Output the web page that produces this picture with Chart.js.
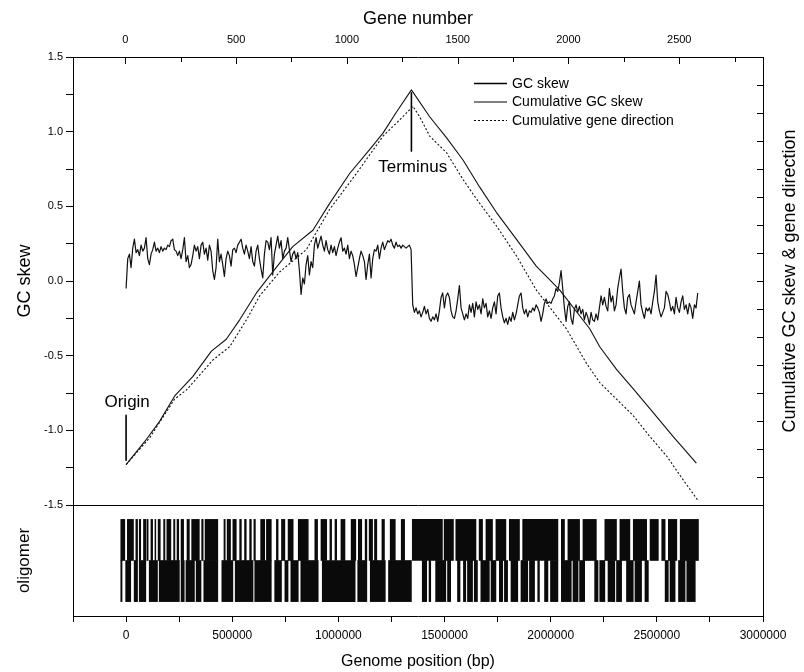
<!DOCTYPE html>
<html>
<head>
<meta charset="utf-8">
<script src="https://cdn.jsdelivr.net/npm/chart.js@4.4.1/dist/chart.umd.min.js"></script>
<style>
  html, body { margin: 0; padding: 0; background: #fff; }
  #wrap { width: 804px; height: 672px; }
</style>
</head>
<body>
<div id="wrap"><canvas id="chart" width="804" height="672"></canvas></div>
<script>
// GC skew, one window every gcWindowBp
const gcWindowBp = 7850;
const gcSkewOriginToTerminus = [
  -0.05, 0.15, 0.18, 0.09, 0.22, 0.28, 0.19, 0.21, 0.17, 0.24,
  0.20, 0.22, 0.29, 0.15, 0.11, 0.18, 0.21, 0.26, 0.20, 0.22,
  0.19, 0.23, 0.20, 0.22, 0.21, 0.24, 0.23, 0.27, 0.28, 0.21,
  0.20, 0.17, 0.20, 0.15, 0.21, 0.29, 0.13, 0.17, 0.09, 0.11,
  0.17, 0.24, 0.20, 0.23, 0.15, 0.24, 0.26, 0.18, 0.22, 0.14,
  0.24, 0.20, 0.07, 0.01, 0.09, 0.28, 0.13, 0.18, 0.11, 0.03,
  0.15, 0.20, 0.17, 0.10, 0.21, 0.22, 0.19, 0.24, 0.26, 0.28,
  0.22, 0.18, 0.24, 0.20, 0.15, 0.23, 0.13, 0.10, 0.20, 0.24,
  0.15, 0.08, 0.02, 0.18, 0.27, 0.26, 0.21, 0.29, 0.04, 0.18,
  0.24, 0.30, 0.22, 0.27, 0.15, 0.20, 0.22, 0.29, 0.21, 0.13,
  0.18, 0.20, 0.15, 0.19, 0.07, -0.09, 0.02, -0.02, 0.11, 0.17,
  0.04, 0.13, 0.09, 0.24, 0.29, 0.22, 0.26, 0.30, 0.24, 0.20,
  0.27, 0.21, 0.18, 0.24, 0.19, 0.23, 0.17, 0.22, 0.26, 0.29,
  0.20, 0.22, 0.18, 0.24, 0.15, 0.20, 0.17, 0.11, 0.03, 0.09,
  0.15, 0.20, 0.17, 0.13, 0.01, 0.11, 0.18, 0.02, 0.15, 0.21,
  0.20, 0.24, 0.15, 0.22, 0.26, 0.21, 0.24, 0.27, 0.26, 0.28,
  0.24, 0.22, 0.26, 0.23, 0.24, 0.22, 0.24, 0.23, 0.22, 0.23,
  0.24, 0.21
];
const gcSkewTerminusToEnd = [
  -0.16, -0.21, -0.18, -0.22, -0.20, -0.24, -0.21, -0.17, -0.22, -0.19,
  -0.25, -0.27, -0.24, -0.26, -0.22, -0.27, -0.20, -0.11, -0.08, -0.18,
  -0.10, -0.08, -0.11, -0.20, -0.24, -0.25, -0.20, -0.12, -0.03, -0.18,
  -0.22, -0.26, -0.22, -0.25, -0.16, -0.21, -0.15, -0.24, -0.14, -0.19,
  -0.16, -0.22, -0.12, -0.18, -0.15, -0.24, -0.20, -0.25, -0.18, -0.14,
  -0.22, -0.10, -0.08, -0.18, -0.24, -0.28, -0.25, -0.29, -0.24, -0.27,
  -0.21, -0.26, -0.22, -0.16, -0.10, -0.08, -0.18, -0.22, -0.19, -0.24,
  -0.20, -0.21, -0.18, -0.20, -0.16, -0.18, -0.21, -0.27, -0.22, -0.15,
  -0.12, -0.15, -0.14, -0.15, -0.12, -0.10, -0.05, -0.07, -0.01, 0.07,
  -0.05, -0.18, -0.27, -0.17, -0.14, -0.25, -0.29, -0.19, -0.16, -0.21,
  -0.17, -0.22, -0.19, -0.26, -0.21, -0.24, -0.29, -0.21, -0.26, -0.27,
  -0.22, -0.26, -0.18, -0.10, -0.16, -0.11, -0.17, -0.20, -0.05, -0.14,
  -0.10, -0.20, -0.16, -0.05, 0.02, 0.08, -0.07, -0.18, -0.22, -0.11,
  -0.09, -0.16, -0.19, -0.22, -0.14, -0.07, 0.00, -0.16, -0.21, -0.25,
  -0.18, -0.20, -0.18, -0.22, -0.14, -0.07, 0.04, -0.14, -0.20, -0.24,
  -0.21, -0.18, -0.07, -0.09, -0.14, -0.20, -0.17, -0.22, -0.11, -0.18,
  -0.21, -0.14, -0.10, -0.19, -0.16, -0.22, -0.15, -0.18, -0.25, -0.16,
  -0.18, -0.08
];

// cumulative curves (position in kb, value)
const cumGcSkewKb = [0, 96, 158, 229, 314, 402, 472, 535, 614, 690, 785, 880, 959, 1053, 1147, 1210, 1273, 1344,
  1430, 1509, 1587, 1665, 1744, 1838, 1932, 2042, 2184, 2231, 2309, 2388, 2482, 2576, 2686];
const cumGcSkewVal = [-1.23, -1.06, -0.94, -0.77, -0.64, -0.47, -0.39, -0.26, -0.08, 0.06, 0.23, 0.34, 0.52, 0.72, 0.88, 0.99, 1.13, 1.28,
  1.10, 0.96, 0.81, 0.63, 0.46, 0.28, 0.10, -0.06, -0.32, -0.44, -0.59, -0.72, -0.88, -1.04, -1.22];
const cumGeneDirKb = [0, 111, 229, 284, 408, 488, 567, 629, 723, 849, 959, 1085, 1210, 1304, 1351,
  1383, 1430, 1509, 1587, 1650, 1744, 1838, 1932, 2074, 2168, 2231, 2309, 2388, 2466, 2545, 2623, 2694];
const cumGeneDirVal = [-1.23, -1.05, -0.79, -0.73, -0.53, -0.44, -0.26, -0.10, 0.06, 0.21, 0.48, 0.72, 0.97, 1.10, 1.17,
  1.10, 0.97, 0.86, 0.68, 0.55, 0.37, 0.17, -0.06, -0.32, -0.55, -0.68, -0.79, -0.90, -1.04, -1.17, -1.33, -1.47];

// oligomer occurrences, [start, end] in kb, per strand row
const oligoUpperKb = [[-25, -6], [6, 35], [46, 54], [62, 69], [82, 93], [98, 104], [117, 125], [136, 140], [151, 161],
  [177, 183], [192, 211], [224, 230], [240, 248], [259, 271], [287, 298], [309, 345], [356, 363], [372, 432],
  [461, 467], [476, 492], [503, 519], [535, 543], [558, 566], [582, 590], [602, 609], [634, 653], [661, 684],
  [708, 716], [732, 748], [763, 787], [811, 858], [889, 902], [918, 945], [960, 968], [984, 992], [1012, 1031],
  [1060, 1082], [1094, 1110], [1126, 1134], [1145, 1161], [1170, 1181], [1205, 1217], [1244, 1268], [1296, 1312],
  [1348, 1490], [1498, 1542], [1553, 1648], [1663, 1679], [1695, 1726], [1742, 1789], [1805, 1853], [1868, 2034],
  [2050, 2065], [2081, 2136], [2152, 2215], [2255, 2310], [2326, 2373], [2389, 2452], [2468, 2507], [2523, 2539],
  [2554, 2594], [2610, 2696]];
const oligoLowerKb = [[-25, -19], [-2, 22], [38, 54], [62, 93], [109, 148], [156, 251], [259, 274], [282, 322],
  [330, 353], [366, 432], [451, 503], [514, 598], [606, 684], [700, 732], [748, 763], [776, 811], [823, 905],
  [924, 1079], [1091, 1134], [1150, 1221], [1236, 1344], [1395, 1416], [1427, 1435], [1458, 1506], [1514, 1529],
  [1561, 1573], [1589, 1600], [1608, 1632], [1640, 1655], [1671, 1711], [1719, 1742], [1758, 1774], [1782, 1797],
  [1813, 1845], [1860, 1892], [1900, 1924], [1939, 1947], [1971, 1987], [1999, 2034], [2050, 2097], [2105, 2129],
  [2136, 2160], [2207, 2223], [2231, 2255], [2270, 2302], [2310, 2334], [2357, 2389], [2397, 2428], [2444, 2460],
  [2539, 2554], [2562, 2586], [2602, 2633], [2641, 2681]];

const legendLabels = ['GC skew', 'Cumulative GC skew', 'Cumulative gene direction'];
const markerLabels = [
  { text: 'Origin', kb: 5, y: -0.81, lineFrom: -0.9, lineTo: -1.2, lineKb: 0 },
  { text: 'Terminus', kb: 1350, y: 0.76, lineFrom: 1.26, lineTo: 0.87, lineKb: 1344 }
];

const FONT = '"Liberation Sans", Arial, sans-serif';
Chart.defaults.font.family = FONT;
Chart.defaults.color = '#000';

const toPoints = (kbs, vals) => kbs.map((kb, i) => ({ x: kb * 1000, y: vals[i] }));
const gcSkewAll = gcSkewOriginToTerminus.concat(gcSkewTerminusToEnd);
const gcSkewPoints = gcSkewAll.map((v, i) => ({ x: i * gcWindowBp, y: v }));
const oligoBars = oligoUpperKb.map(r => ({ x: [r[0] * 1000, r[1] * 1000], y: 1.5 }))
  .concat(oligoLowerKb.map(r => ({ x: [r[0] * 1000, r[1] * 1000], y: 0.5 })));

const lineStyle = { pointRadius: 0, tension: 0, fill: false, borderColor: '#111', borderJoinStyle: 'round' };

const datasets = [
  { type: 'bar', label: 'oligomer', data: oligoBars, indexAxis: 'y', xAxisID: 'x', yAxisID: 'yOlig',
    backgroundColor: '#0a0a0a', borderWidth: 0, barPercentage: 1, categoryPercentage: 1, grouped: false },
  { type: 'line', label: legendLabels[0], data: gcSkewPoints, xAxisID: 'x', yAxisID: 'y', ...lineStyle, borderWidth: 1.2 },
  { type: 'line', label: legendLabels[1], data: toPoints(cumGcSkewKb, cumGcSkewVal), xAxisID: 'x', yAxisID: 'yR', ...lineStyle, borderWidth: 1.1 },
  { type: 'line', label: legendLabels[2], data: toPoints(cumGeneDirKb, cumGeneDirVal), xAxisID: 'x', yAxisID: 'yR', ...lineStyle, borderWidth: 1.1, borderDash: [2, 2] }
];
markerLabels.forEach(m => datasets.push({
  type: 'line', label: m.text, data: [{ x: m.lineKb * 1000, y: m.lineFrom }, { x: m.lineKb * 1000, y: m.lineTo }],
  xAxisID: 'x', yAxisID: 'y', ...lineStyle, borderColor: '#000', borderWidth: 1.6
}));

const fixWidth = w => s => { s.width = w; };
const fixHeight = h => s => { s.height = h; };

// annotations, legend, inward ticks and the right-hand title
const extras = {
  id: 'extras',
  afterDraw(chart) {
    const { ctx, chartArea, scales } = chart;
    const x = scales.x, y = scales.y, top = scales.xTop, yR = scales.yR;
    ctx.save();
    ctx.fillStyle = '#000';
    ctx.strokeStyle = '#000';

    ctx.font = '17px ' + FONT;
    ctx.textAlign = 'center';
    ctx.textBaseline = 'middle';
    markerLabels.forEach(m => ctx.fillText(m.text, x.getPixelForValue(m.kb * 1000), y.getPixelForValue(m.y)));

    // legend
    ctx.font = '14px ' + FONT;
    ctx.textAlign = 'left';
    const lx = chartArea.right - 289;
    legendLabels.forEach((lab, i) => {
      const ly = chartArea.top + 26 + i * 18.5;
      ctx.lineWidth = i === 0 ? 1.3 : 1.1;
      ctx.setLineDash(i === 2 ? [2, 2] : []);
      ctx.beginPath();
      ctx.moveTo(lx, ly + 0.5);
      ctx.lineTo(lx + 33, ly + 0.5);
      ctx.stroke();
      ctx.fillText(lab, lx + 38, ly + 1);
    });
    ctx.setLineDash([]);

    // inward ticks on the top and right axes
    ctx.lineWidth = 1;
    ctx.beginPath();
    top.ticks.forEach(t => {
      const px = Math.round(top.getPixelForValue(t.value)) + 0.5;
      const len = t.value % 500 === 0 ? 7 : 5;
      ctx.moveTo(px, top.bottom);
      ctx.lineTo(px, top.bottom + len);
    });
    yR.ticks.forEach(t => {
      const py = Math.round(yR.getPixelForValue(t.value)) + 0.5;
      ctx.moveTo(yR.left, py);
      ctx.lineTo(yR.left - 6, py);
    });
    ctx.stroke();

    // right title reads bottom to top
    ctx.font = '18px ' + FONT;
    ctx.textAlign = 'center';
    ctx.translate(chart.width - 14, (yR.top + yR.bottom) / 2);
    ctx.rotate(-Math.PI / 2);
    ctx.fillText('Cumulative GC skew & gene direction', 0, 0);
    ctx.restore();
  }
};

const axisBorder = { display: true, color: '#000', width: 1 };

new Chart(document.getElementById('chart'), {
  type: 'line',
  data: { datasets },
  options: {
    responsive: false,
    animation: false,
    layout: { padding: 0 },
    plugins: { legend: { display: false }, tooltip: { enabled: false } },
    scales: {
      x: {
        type: 'linear', position: 'bottom', min: -250000, max: 3000000,
        afterFit: fixHeight(56),
        border: axisBorder,
        grid: { drawOnChartArea: false, tickLength: 6, color: '#000' },
        ticks: {
          stepSize: 250000, autoSkip: false, maxRotation: 0, padding: 6, includeBounds: false,
          font: { size: 12 },
          callback: v => (v >= 0 && v % 500000 === 0 ? String(v) : '')
        },
        title: { display: true, text: 'Genome position (bp)', font: { size: 16 }, padding: { top: 2, bottom: 1 } }
      },
      xTop: {
        type: 'linear', position: 'top', min: -236, max: 2878,
        afterFit: fixHeight(57),
        border: axisBorder,
        grid: { drawOnChartArea: false, drawTicks: false },
        ticks: {
          stepSize: 250, autoSkip: false, maxRotation: 0, padding: 10, includeBounds: false,
          font: { size: 11 },
          callback: v => (v >= 0 && v % 500 === 0 ? String(v) : '')
        },
        title: { display: true, text: 'Gene number', font: { size: 18 }, padding: { top: 8, bottom: 0 } }
      },
      yOlig: {
        type: 'linear', position: 'left', stack: 'left', stackWeight: 111, min: -0.35, max: 2.35, offset: false,
        afterFit: fixWidth(73),
        afterBuildTicks: s => { s.ticks = [{ value: 0.5 }, { value: 1.5 }]; },
        border: axisBorder,
        grid: { display: false, offset: false },
        ticks: { display: false },
        title: { display: true, text: 'oligomer', font: { size: 17 }, padding: { top: 14, bottom: 0 } }
      },
      y: {
        type: 'linear', position: 'left', stack: 'left', stackWeight: 448, min: -1.5, max: 1.5,
        afterFit: fixWidth(73),
        border: axisBorder,
        grid: {
          drawOnChartArea: true, tickLength: 7, tickColor: '#000',
          color: c => (c.tick && c.tick.value === -1.5 ? '#000' : 'rgba(0,0,0,0)')
        },
        ticks: {
          stepSize: 0.25, autoSkip: false, padding: 3, font: { size: 11 },
          callback: v => (Math.round(v * 100) % 50 === 0 ? v.toFixed(1) : '')
        },
        title: { display: true, text: 'GC skew', font: { size: 18 }, padding: { top: 14, bottom: 0 } }
      },
      yR: {
        type: 'linear', position: 'right', stack: 'right', stackWeight: 448, min: -1.5, max: 1.5,
        afterFit: fixWidth(41),
        border: axisBorder,
        grid: { drawOnChartArea: false, drawTicks: false },
        ticks: { stepSize: 0.1875, display: false }
      },
      yR2: {
        type: 'linear', position: 'right', stack: 'right', stackWeight: 111, min: 0, max: 1,
        afterFit: fixWidth(41),
        border: axisBorder,
        grid: { display: false },
        ticks: { display: false }
      }
    }
  },
  plugins: [extras]
});
</script>
</body>
</html>
